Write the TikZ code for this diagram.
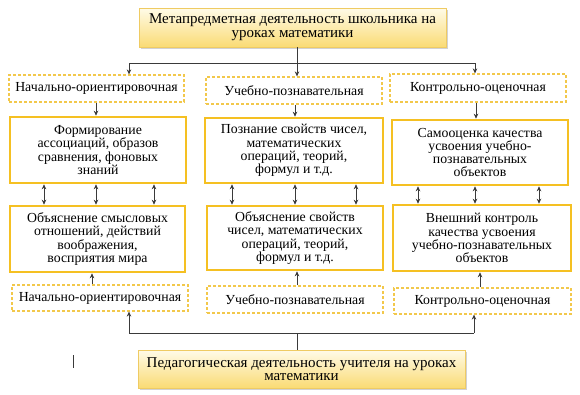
\documentclass[tikz,border=0pt]{standalone}
\usepackage{fontspec}
\setmainfont{Liberation Serif}
\usetikzlibrary{arrows.meta,shadows}
\definecolor{goldline}{HTML}{F5C022}
\definecolor{dashline}{HTML}{F2C84B}
\definecolor{topfill}{HTML}{FFFBE8}
\definecolor{botfill}{HTML}{FADB74}
\definecolor{frameline}{HTML}{EFCB63}
\definecolor{conn}{HTML}{3A3A3A}
\tikzset{
  every node/.style={font=\fontsize{13.8}{13.2}\selectfont, align=center, inner sep=0pt, text=black},
  headbox/.style={draw=frameline, line width=0.8pt, top color=topfill, bottom color=botfill,
    font=\fontsize{15}{13.6}\selectfont,
    drop shadow={shadow xshift=2pt, shadow yshift=-2pt, fill=black!35}},
  dashbox/.style={draw=dashline, line width=1.2pt, dash pattern=on 3pt off 2pt},
  solidbox/.style={draw=goldline, line width=2.6pt},
  conline/.style={draw=conn, line width=0.8pt},
  arr/.style={conline, -{Stealth[length=5pt,width=4.5pt]}},
  biarr/.style={conline, {Stealth[length=5pt,width=4.5pt]}-{Stealth[length=5pt,width=4.5pt]}}
}
\begin{document}
\begin{tikzpicture}[x=1pt,y=-1pt]
\useasboundingbox (0,0) rectangle (580,394);
% head boxes
\node[headbox, minimum width=307pt, minimum height=39pt] (top) at (292.5,27.5)
  {Метапредметная деятельность школьника на\\уроках математики};
\node[headbox, minimum width=327pt, minimum height=38pt] (bot) at (301.5,369)
  {Педагогическая деятельность учителя на уроках\\математики};
% upper dashed
\node[dashbox, minimum width=175pt, minimum height=27pt] (d1) at (96.5,88.5) {Начально-ориентировочная};
\node[dashbox, minimum width=176pt, minimum height=27pt] (d2) at (294,90.5) {Учебно-познавательная};
\node[dashbox, minimum width=176pt, minimum height=28pt] (d3) at (478,88) {Контрольно-оценочная};
% row 2
\node[solidbox, minimum width=176pt, minimum height=66pt] (s1) at (98,150)
  {Формирование\\ассоциаций, образов\\сравнения, фоновых\\знаний};
\node[solidbox, minimum width=178pt, minimum height=65pt] (s2) at (294,150.5)
  {Познание свойств чисел,\\математических\\операций, теорий,\\формул и т.д.};
\node[solidbox, minimum width=176pt, minimum height=65pt] (s3) at (480,152.5)
  {Самооценка качества\\усвоения учебно-\\познавательных\\объектов};
% row 3
\node[solidbox, minimum width=175pt, minimum height=66pt] (r1) at (97.5,239)
  {Объяснение смысловых\\отношений, действий\\воображения,\\восприятия мира};
\node[solidbox, minimum width=176pt, minimum height=64pt] (r2) at (295,238)
  {Объяснение свойств\\чисел, математических\\операций, теорий,\\формул и т.д.};
\node[solidbox, minimum width=178pt, minimum height=66pt] (r3) at (482,238)
  {Внешний контроль\\качества усвоения\\учебно-познавательных\\объектов};
% lower dashed
\node[dashbox, minimum width=176pt, minimum height=26pt] (b1) at (100,298) {Начально-ориентировочная};
\node[dashbox, minimum width=176pt, minimum height=27pt] (b2) at (295,299.5) {Учебно-познавательная};
\node[dashbox, minimum width=177pt, minimum height=26pt] (b3) at (482.5,301) {Контрольно-оценочная};
% top connectors
\coordinate (tc) at (297,0);
\coordinate (hl) at (129,63);
\coordinate (hr) at (475,63);
\draw[conline] (hl) -- (hr);
\draw[arr] (top.south -| tc) -- (d2.north -| tc);
\draw[arr] (hl) -- (d1.north -| hl);
\draw[arr] (hr) -- (d3.north -| hr);
% dashed to row 2
\coordinate (c1) at (96,0);
\coordinate (c2) at (295,0);
\coordinate (c3) at (476,0);
\draw[arr] (d1.south -| c1) -- (s1.north -| c1);
\draw[arr] (d2.south -| c2) -- (s2.north -| c2);
\draw[arr] (d3.south -| c3) -- (s3.north -| c3);
% row 2 to row 3, both ways
\foreach \x in {44,96,154}{\coordinate (q) at (\x,0); \draw[biarr] (s1.south -| q) -- (r1.north -| q);}
\foreach \x in {232,295,356}{\coordinate (q) at (\x,0); \draw[biarr] (s2.south -| q) -- (r2.north -| q);}
\foreach \x in {418,475,539}{\coordinate (q) at (\x,0); \draw[biarr] (s3.south -| q) -- (r3.north -| q);}
% lower dashed to row 3
\coordinate (e1) at (92,0);
\coordinate (e2) at (297,0);
\coordinate (e3) at (480,0);
\draw[arr] (b1.north -| e1) -- (r1.south -| e1);
\draw[arr] (b2.north -| e2) -- (r2.south -| e2);
\draw[arr] (b3.north -| e3) -- (r3.south -| e3);
% bottom connectors
\coordinate (gl) at (129,333);
\coordinate (gr) at (474,333);
\draw[conline] (gl) -- (gr);
\draw[conline] (bot.north -| tc) -- (gl -| tc);
\draw[arr] (gl) -- (b1.south -| gl);
\draw[arr] (gr) -- (b3.south -| gr);
% stray mark
\coordinate (m1) at (73,355);
\coordinate (m2) at (73,368);
\draw[conn, line width=0.8pt] (m1) -- (m2);
\end{tikzpicture}
\end{document}
